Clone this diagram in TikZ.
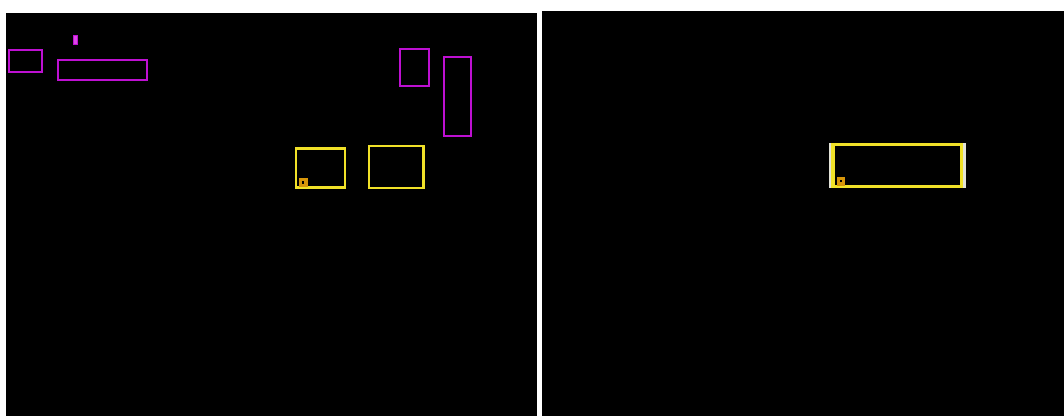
\documentclass[tikz,border=0pt]{standalone}
\definecolor{panelbg}{RGB}{0,0,0}
\definecolor{pur}{RGB}{190,16,210}
\definecolor{purfill}{RGB}{220,70,230}
\definecolor{yel}{RGB}{240,225,40}
\definecolor{org}{RGB}{215,150,10}
\definecolor{edgegray}{RGB}{225,225,215}
\begin{document}
\begin{tikzpicture}[x=1pt,y=-1pt,
  panel/.style={fill=panelbg,draw=none},
  pbox/.style={draw=pur,line width=2.2pt,inner sep=0pt,minimum width=#1},
  pbox/.default=10pt,
  pfill/.style={draw=pur,fill=purfill,line width=1pt,inner sep=0pt},
  ybox/.style={draw=yel,line width=2.5pt,inner sep=0pt},
  osq/.style={draw=org,fill=org,line width=1pt,inner sep=0pt},
  odot/.style={fill=black,draw=none,inner sep=0pt,minimum size=2.2pt},
  sideband/.style={fill=yel,draw=none},
  sidegray/.style={fill=edgegray,draw=none}]
\useasboundingbox (0,0) rectangle (1064,416);
\fill[white] (0,0) rectangle (1064,416);
% panels
\path[panel] (6,13) rectangle (537,416);
\path[panel] (542,11) rectangle (1064,416);
% purple boxes
\node[pbox=33.3pt, minimum height=22.3pt] (a) at (25.65,61.15) {};
\node[pfill, minimum width=3.7pt, minimum height=9pt] (s) at (75.35,40.3) {};
\node[pbox=88.4pt, minimum height=20.3pt] (b) at (102.5,70.15) {};
\node[pbox=28.7pt, minimum height=36.4pt] (c) at (414.35,67.5) {};
\node[pbox=26.4pt, minimum height=78.7pt] (d) at (457.5,96.35) {};
% yellow boxes left
\node[ybox, minimum width=49.2pt, minimum height=39pt] (y1) at (320.5,168) {};
\node[osq, minimum width=7.7pt, minimum height=7.4pt] (o1) at (303.35,182.5) {};
\node[odot] (o1c) at (o1.center) {};
\node[ybox, minimum width=54.6pt, minimum height=41.9pt] (y2) at (396.2,166.85) {};
% yellow box right
\path[sidegray] (829.3,143) rectangle (831,187.7);
\path[sidegray] (963.3,143) rectangle (965.7,187.7);
\path[sideband] (831,143) rectangle (834.5,187.7);
\path[sideband] (959.8,143) rectangle (963.3,187.7);
\node[ybox, minimum width=129.8pt, minimum height=42.2pt] (y3) at (897.15,165.35) {};
\node[osq, minimum width=7pt, minimum height=7.7pt] (o2) at (841,181.35) {};
\node[odot] (o2c) at (o2.center) {};
\end{tikzpicture}
\end{document}
